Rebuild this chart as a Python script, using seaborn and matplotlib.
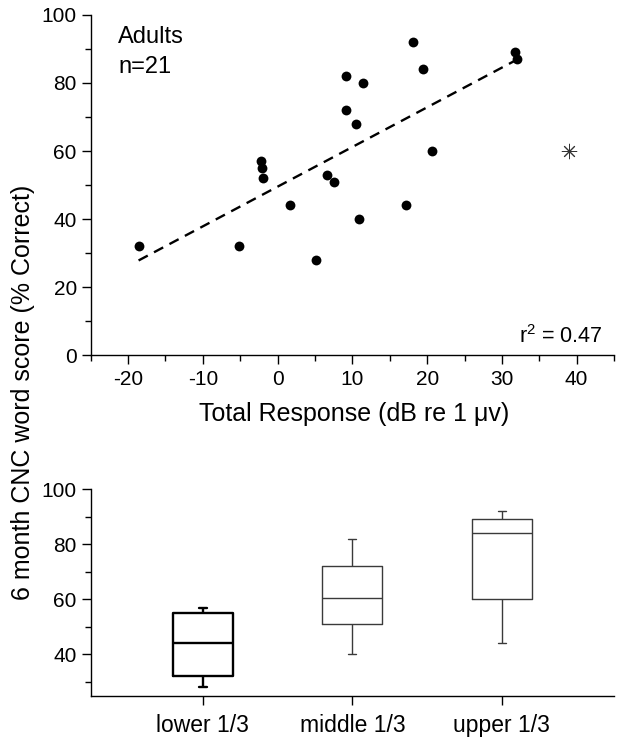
import numpy as np
import pandas as pd
import matplotlib
matplotlib.use("Agg")
import matplotlib.pyplot as plt
from matplotlib.ticker import MultipleLocator, FixedLocator
import seaborn as sns

# ---------------- data ----------------
# top panel: individual subjects
total_response = [-18.6, -5.2, 5.1, 1.7, -2.2, -2.1, -1.9, 6.6, 7.6, 10.9,
                  9.2, 9.2, 11.4, 10.5, 17.2, 18.1, 19.5, 20.6, 31.8, 32.0]
word_score = [32, 32, 28, 44, 57, 55, 52, 53, 51, 40,
              72, 82, 80, 68, 44, 92, 84, 60, 89, 87]
outlier_response = [39.0]
outlier_score = [60]

# bottom panel: five-number summaries per tertile (min, Q1, median, Q3, max)
groups = ["lower 1/3", "middle 1/3", "upper 1/3"]
lower_summary = [28, 32, 44, 55, 57]
middle_summary = [40, 51, 60.5, 72, 82]
upper_summary = [44, 60, 84, 89, 92]

x_ticks_top = [-20, -10, 0, 10, 20, 30, 40]
y_ticks_top = [0, 20, 40, 60, 80, 100]
y_ticks_bottom = [40, 60, 80, 100]

# ---------------- style ----------------
sns.set_style("ticks")
plt.rcParams["font.family"] = ["Liberation Sans", "DejaVu Sans"]
plt.rcParams["mathtext.fontset"] = "custom"
plt.rcParams["mathtext.rm"] = "Liberation Sans"
plt.rcParams["mathtext.default"] = "regular"
plt.rcParams["axes.linewidth"] = 1.0
plt.rcParams["axes.edgecolor"] = "black"
plt.rcParams["xtick.color"] = "black"
plt.rcParams["ytick.color"] = "black"
plt.rcParams["text.color"] = "black"
plt.rcParams["axes.labelcolor"] = "black"

fig = plt.figure(figsize=(6.21, 7.46), dpi=100)
ax1 = fig.add_axes([0.1461, 0.5241, 0.8427, 0.4558])
ax2 = fig.add_axes([0.1461, 0.0674, 0.8427, 0.2771])

TICK_FS = 15

# ---------------- top panel ----------------
sns.scatterplot(x=total_response, y=word_score, color="black", s=50,
                linewidth=0, ax=ax1, zorder=3)
sns.regplot(x=np.array(total_response), y=np.array(word_score), scatter=False,
            ci=None, ax=ax1,
            line_kws=dict(color="black", lw=1.7, ls=(0, (4.4, 3.0))))
sns.scatterplot(x=outlier_response, y=outlier_score, marker=(8, 2, 0),
                color="#333333", s=110, linewidth=0.7, ax=ax1, zorder=3)

ax1.set_xlim(-25, 45)
ax1.set_ylim(0, 100)
ax1.xaxis.set_major_locator(FixedLocator(x_ticks_top))
ax1.xaxis.set_minor_locator(MultipleLocator(5))
ax1.yaxis.set_major_locator(FixedLocator(y_ticks_top))
ax1.yaxis.set_minor_locator(MultipleLocator(10))
ax1.set_xticklabels([str(v) for v in x_ticks_top])
ax1.set_yticklabels([str(v) for v in y_ticks_top])
sns.despine(ax=ax1)

ax1.text(0.052, 0.918, "Adults", transform=ax1.transAxes, fontsize=17,
         ha="left", va="baseline")
ax1.text(0.052, 0.829, "n=21", transform=ax1.transAxes, fontsize=17,
         ha="left", va="baseline")
ax1.text(0.978, 0.034, "r$^2$ = 0.47", transform=ax1.transAxes, fontsize=15.5,
         ha="right", va="baseline")

ax1.set_xlabel("Total Response (dB re 1 μv)", fontsize=18, va="baseline")
ax1.xaxis.set_label_coords(354 / 621, 1 - 421.5 / 746, transform=fig.transFigure)
ax1.set_ylabel("")

# ---------------- bottom panel ----------------
box_df = pd.DataFrame({
    "group": [groups[0]] * 5 + [groups[1]] * 5 + [groups[2]] * 5,
    "score": lower_summary + middle_summary + upper_summary,
})

sns.boxplot(data=box_df[box_df["group"] == groups[0]], x="group", y="score",
            order=groups, whis=(0, 100), width=0.4, fill=False,
            color="black", linewidth=1.7, capwidths=0.055, ax=ax2)
sns.boxplot(data=box_df[box_df["group"] != groups[0]], x="group", y="score",
            order=groups, whis=(0, 100), width=0.4, fill=False,
            color="#3a3a3a", linewidth=1.0, capwidths=0.055, ax=ax2)

ax2.set_xlim(-0.75, 2.75)
ax2.set_ylim(25, 100)
ax2.yaxis.set_major_locator(FixedLocator(y_ticks_bottom))
ax2.yaxis.set_minor_locator(FixedLocator([30, 50, 70, 90]))
ax2.set_yticklabels([str(v) for v in y_ticks_bottom])
ax2.set_xlabel("")
ax2.set_ylabel("")
sns.despine(ax=ax2)

for ax in (ax1, ax2):
    ax.tick_params(axis="both", which="major", direction="out", length=6.5,
                   width=1.0, labelsize=TICK_FS, pad=3.5, labelcolor="black")
    ax.tick_params(axis="both", which="minor", direction="out", length=4,
                   width=1.0)
ax1.tick_params(axis="x", which="major", pad=4)
ax2.tick_params(axis="x", which="major", labelsize=16.5, pad=6.5)
ax2.tick_params(axis="x", which="minor", length=0)

# shared y label
fig.text(23 / 621, 1 - 392 / 746, "6 month CNC word score (% Correct)",
         rotation=90, ha="center", va="center", fontsize=18)

fig.savefig("out.png", dpi=100, facecolor="white")
